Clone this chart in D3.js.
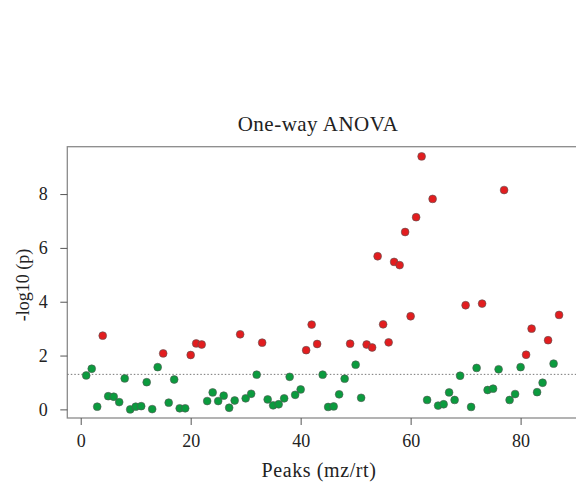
<!DOCTYPE html>
<meta charset="utf-8">
<script src="https://d3js.org/d3.v7.min.js"></script>
<style>
  body { margin: 0; background: #fff; }
  text { font-family: "Liberation Serif", "DejaVu Serif", serif; fill: #222; }
</style>
<body>
<div id="my_dataviz"></div>
<script>

// -log10(p) for each peak, peak index is 1..87
var pvals = [
  1.26, 1.51, 0.10, 2.74, 0.49, 0.47, 0.27, 1.15, 0.00, 0.10,
  0.12, 1.01, 0.01, 1.57, 2.08, 0.25, 1.11, 0.04, 0.04, 2.02,
  2.45, 2.41, 0.31, 0.63, 0.31, 0.51, 0.06, 0.33, 2.79, 0.41,
  0.58, 1.29, 2.48, 0.37, 0.15, 0.19, 0.41, 1.21, 0.54, 0.74,
  2.20, 3.15, 2.43, 1.29, 0.09, 0.11, 0.56, 1.14, 2.44, 1.66,
  0.43, 2.41, 2.30, 5.69, 3.16, 2.49, 5.48, 5.36, 6.59, 3.46,
  7.14, 9.40, 0.35, 7.82, 0.14, 0.19, 0.63, 0.35, 1.25, 3.87,
  0.09, 1.54, 3.93, 0.72, 0.77, 1.49, 8.15, 0.35, 0.57, 1.57,
  2.03, 3.00, 0.64, 0.99, 2.57, 1.70, 3.51
]
// peaks drawn in red (significant)
var sigPeaks = [4, 15, 20, 21, 22, 29, 33, 41, 42, 43, 49, 52, 53, 54, 55, 56,
  57, 58, 59, 60, 61, 62, 64, 70, 73, 77, 81, 82, 85, 87]
var xTicks = [0, 20, 40, 60, 80]
var yTicks = [0, 2, 4, 6, 8]
var threshold = 1.301

var data = pvals.map(function(v, i) {
  return {peak: i + 1, p: v, sig: sigPeaks.indexOf(i + 1) >= 0}
})

var width = 576, height = 483
var plotL = 67.3, plotR = 578, plotT = 146.7, plotB = 418

var svg = d3.select("#my_dataviz")
  .append("svg")
    .attr("width", width)
    .attr("height", height)

var x = d3.scaleLinear()
  .domain([-2.44, 90.44])
  .range([plotL, plotR])

var y = d3.scaleLinear()
  .domain([-0.32, 9.76])
  .range([plotB, plotT])

// box
svg.append("rect")
  .attr("x", plotL).attr("y", plotT)
  .attr("width", plotR - plotL).attr("height", plotB - plotT)
  .attr("fill", "none")
  .attr("stroke", "#8a8a8a")
  .attr("stroke-width", 1.3)

// x axis
var xAxis = svg.append("g")
  .attr("transform", "translate(0," + plotB + ")")
  .call(d3.axisBottom(x).tickValues(xTicks).tickSize(7).tickPadding(9))
xAxis.select(".domain").remove()
xAxis.selectAll("line").attr("stroke", "#555")
xAxis.selectAll("text").style("font-size", "18px").style("font-family", "Liberation Serif")

// y axis
var yAxis = svg.append("g")
  .attr("transform", "translate(" + plotL + ",0)")
  .call(d3.axisLeft(y).tickValues(yTicks).tickSize(7).tickPadding(12))
yAxis.select(".domain").remove()
yAxis.selectAll("line").attr("stroke", "#555")
yAxis.selectAll("text").style("font-size", "18px").style("font-family", "Liberation Serif")
  .attr("text-anchor", "middle").attr("dx", "-5")

// threshold line
svg.append("line")
  .attr("x1", plotL).attr("x2", plotR)
  .attr("y1", y(threshold)).attr("y2", y(threshold))
  .attr("stroke", "#777")
  .attr("stroke-width", 1)
  .attr("stroke-dasharray", "1.5,2")

// points
svg.selectAll("circle")
  .data(data)
  .enter()
  .append("circle")
    .attr("cx", function(d) { return x(d.peak) })
    .attr("cy", function(d) { return y(d.p) })
    .attr("r", 3.9)
    .attr("fill", function(d) { return d.sig ? "#e21d1f" : "#0b9b3e" })
    .attr("stroke", "#555")
    .attr("stroke-width", 0.6)

// title and labels
svg.append("text")
  .attr("x", 318).attr("y", 131)
  .attr("text-anchor", "middle")
  .style("font-size", "21px")
  .style("letter-spacing", "0.5px")
  .text("One-way ANOVA")

svg.append("text")
  .attr("x", 319).attr("y", 477)
  .attr("text-anchor", "middle")
  .style("font-size", "20px")
  .style("letter-spacing", "0.6px")
  .text("Peaks (mz/rt)")

svg.append("text")
  .attr("transform", "translate(29,285) rotate(-90)")
  .attr("text-anchor", "middle")
  .style("font-size", "18px")
  .text("-log10 (p)")

</script>
</body>
